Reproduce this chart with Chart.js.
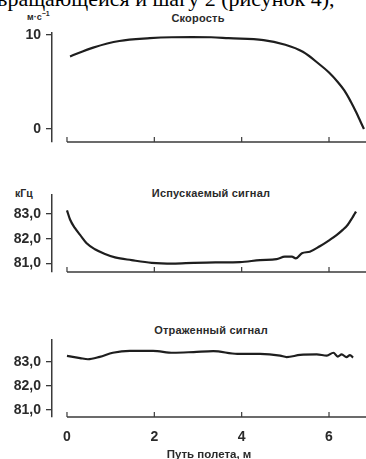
<!DOCTYPE html>
<html>
<head>
<meta charset="utf-8">
<script src="https://cdn.jsdelivr.net/npm/chart.js@4"></script>
<style>
  html, body { margin: 0; padding: 0; background: #fff; width: 366px; height: 459px; overflow: hidden; }
  body { position: relative; font-family: "Liberation Sans", Arial, sans-serif; }
  canvas { position: absolute; left: 0; }
  .lbl { position: absolute; white-space: nowrap; color: #2a2a2a; font-weight: bold; line-height: 1; }
  .ttl { position: absolute; white-space: nowrap; color: #2a2a2a; font-weight: bold; font-size: 11px; line-height: 1; transform: translate(-50%, -50%); letter-spacing: 0.2px; }
  .top { position: absolute; left: -3px; top: -12px; font-family: "Liberation Serif", "Times New Roman", serif; font-size: 22px; line-height: 22px; color: #000; white-space: nowrap; }
</style>
</head>
<body>
<div class="top">вращающейся и шагу 2 (рисунок 4),</div>
<div class="lbl" style="left:27px; top:10px; font-size:9px;">м·с<sup style="font-size:7px;">−1</sup></div>
<div class="ttl" style="left:198px; top:18px;">Скорость</div>
<div class="lbl" style="left:15px; top:188px; font-size:10.5px;">кГц</div>
<div class="ttl" style="left:211px; top:193px;">Испускаемый сигнал</div>
<div class="ttl" style="left:211px; top:330px;">Отраженный сигнал</div>

<canvas id="c1" width="366" height="150" style="top:0px"></canvas>
<canvas id="c2" width="366" height="130" style="top:150px"></canvas>
<canvas id="c3" width="366" height="182" style="top:280px"></canvas>

<script>
// ---- data ----
const xTicks = [0, 2, 4, 6];

const speedX = [0.07, 0.6, 1.2, 1.9, 2.4, 3.3, 3.7, 4.5, 5.0, 5.4, 5.8, 6.0, 6.2, 6.35, 6.5, 6.62, 6.72, 6.8];
const speedY = [7.7, 8.65, 9.35, 9.65, 9.75, 9.75, 9.65, 9.45, 8.95, 8.2, 6.8, 6.0, 5.0, 4.1, 2.9, 1.8, 0.8, 0.0];
const speedTicks = [0, 10];
const speedTickLabels = ['0', '10'];

const emitX = [0.0, 0.07, 0.18, 0.3, 0.45, 0.64, 0.87, 1.1, 1.48, 1.94, 2.43, 2.9, 3.4, 3.96, 4.42, 4.8, 4.99, 5.15, 5.24, 5.38, 5.56, 5.79, 6.02, 6.18, 6.32, 6.43, 6.53, 6.6, 6.62];
const emitY = [83.15, 82.78, 82.44, 82.16, 81.82, 81.58, 81.39, 81.25, 81.14, 81.03, 81.0, 81.03, 81.05, 81.06, 81.14, 81.18, 81.28, 81.28, 81.21, 81.42, 81.48, 81.7, 81.96, 82.16, 82.37, 82.57, 82.84, 83.05, 83.1];

const reflX = [0.0, 0.3, 0.48, 0.75, 1.05, 1.44, 1.97, 2.43, 2.9, 3.35, 3.9, 4.42, 4.88, 5.03, 5.34, 5.72, 5.95, 6.1, 6.2, 6.29, 6.4, 6.48, 6.55];
const reflY = [83.24, 83.15, 83.1, 83.2, 83.37, 83.45, 83.45, 83.37, 83.4, 83.44, 83.32, 83.32, 83.25, 83.19, 83.28, 83.3, 83.25, 83.37, 83.21, 83.3, 83.19, 83.27, 83.17];

const freqTicks = [81, 82, 83];
const freqTickLabels = ['81,0', '82,0', '83,0'];

const xAxisTitle = 'Путь полета, м';

// ---- helpers ----
const INK = '#1e1e1e';
const AXIS = '#3a3a3a';
const tickFont = { family: '"Liberation Sans", Arial, sans-serif', size: 14, weight: 'bold' };

function pts(xs, ys) { return xs.map((x, i) => ({ x: x, y: ys[i] })); }

const xAxisLine = {
  id: 'xAxisLine',
  afterDraw(chart) {
    const ctx = chart.ctx, xs = chart.scales.x, area = chart.chartArea;
    const y = area.bottom;
    ctx.save();
    ctx.strokeStyle = AXIS;
    ctx.lineWidth = 1.5;
    ctx.beginPath();
    ctx.moveTo(xs.getPixelForValue(0), y);
    ctx.lineTo(area.right, y);
    ctx.stroke();
    ctx.lineWidth = 1.2;
    xTicks.forEach(v => {
      const px = xs.getPixelForValue(v);
      ctx.beginPath();
      ctx.moveTo(px, y);
      ctx.lineTo(px, y - 5);
      ctx.stroke();
    });
    ctx.restore();
  }
};

function makeChart(id, xs, ys, yMin, yMax, ticks, tickLabels, padTop, padBottom, showX, smooth) {
  const ds = {
    data: pts(xs, ys),
    borderColor: INK,
    borderWidth: 2.2,
    pointRadius: 0,
    fill: false
  };
  if (smooth) { ds.tension = 0.35; } else { ds.cubicInterpolationMode = 'monotone'; }
  return new Chart(document.getElementById(id), {
    type: 'line',
    data: { datasets: [ds] },
    options: {
      responsive: false,
      animation: false,
      devicePixelRatio: 1,
      layout: { padding: { top: padTop, bottom: padBottom, left: 0, right: 0 } },
      plugins: { legend: { display: false }, tooltip: { enabled: false }, title: { display: false } },
      scales: {
        x: {
          type: 'linear',
          min: -0.343,
          max: 6.847,
          display: showX,
          afterBuildTicks: s => { s.ticks = xTicks.map(v => ({ value: v })); },
          afterFit: s => { if (showX) s.height = 45; s.paddingLeft = 0; s.paddingRight = 0; },
          grid: { display: false, drawTicks: false },
          border: { display: false },
          ticks: { color: '#2a2a2a', font: tickFont, padding: 12, maxRotation: 0, autoSkip: false },
          title: {
            display: showX,
            text: xAxisTitle,
            color: '#2a2a2a',
            font: { family: '"Liberation Sans", Arial, sans-serif', size: 11.5, weight: 'bold' },
            padding: { top: 0, bottom: 0 }
          }
        },
        y: {
          type: 'linear',
          min: yMin,
          max: yMax,
          afterBuildTicks: s => { s.ticks = ticks.map(v => ({ value: v })); },
          afterFit: s => { s.width = 52; s.paddingTop = 0; s.paddingBottom = 0; },
          grid: { drawOnChartArea: false, drawTicks: true, tickLength: 6, color: AXIS, lineWidth: 1.3 },
          border: { display: true, color: AXIS, width: 1.5 },
          ticks: {
            color: '#2a2a2a',
            font: tickFont,
            padding: 5,
            autoSkip: false,
            callback: v => { const i = ticks.indexOf(v); return i >= 0 ? tickLabels[i] : ''; }
          }
        }
      }
    },
    plugins: [xAxisLine]
  });
}

makeChart('c1', speedX, speedY, -1.38, 10.2, speedTicks, speedTickLabels, 33, 8, false, true);
makeChart('c2', emitX, emitY, 80.66, 83.77, freqTicks, freqTickLabels, 45, 8, false, false);
makeChart('c3', reflX, reflY, 80.7, 83.9, freqTicks, freqTickLabels, 60, 0, true, false);
</script>
</body>
</html>
